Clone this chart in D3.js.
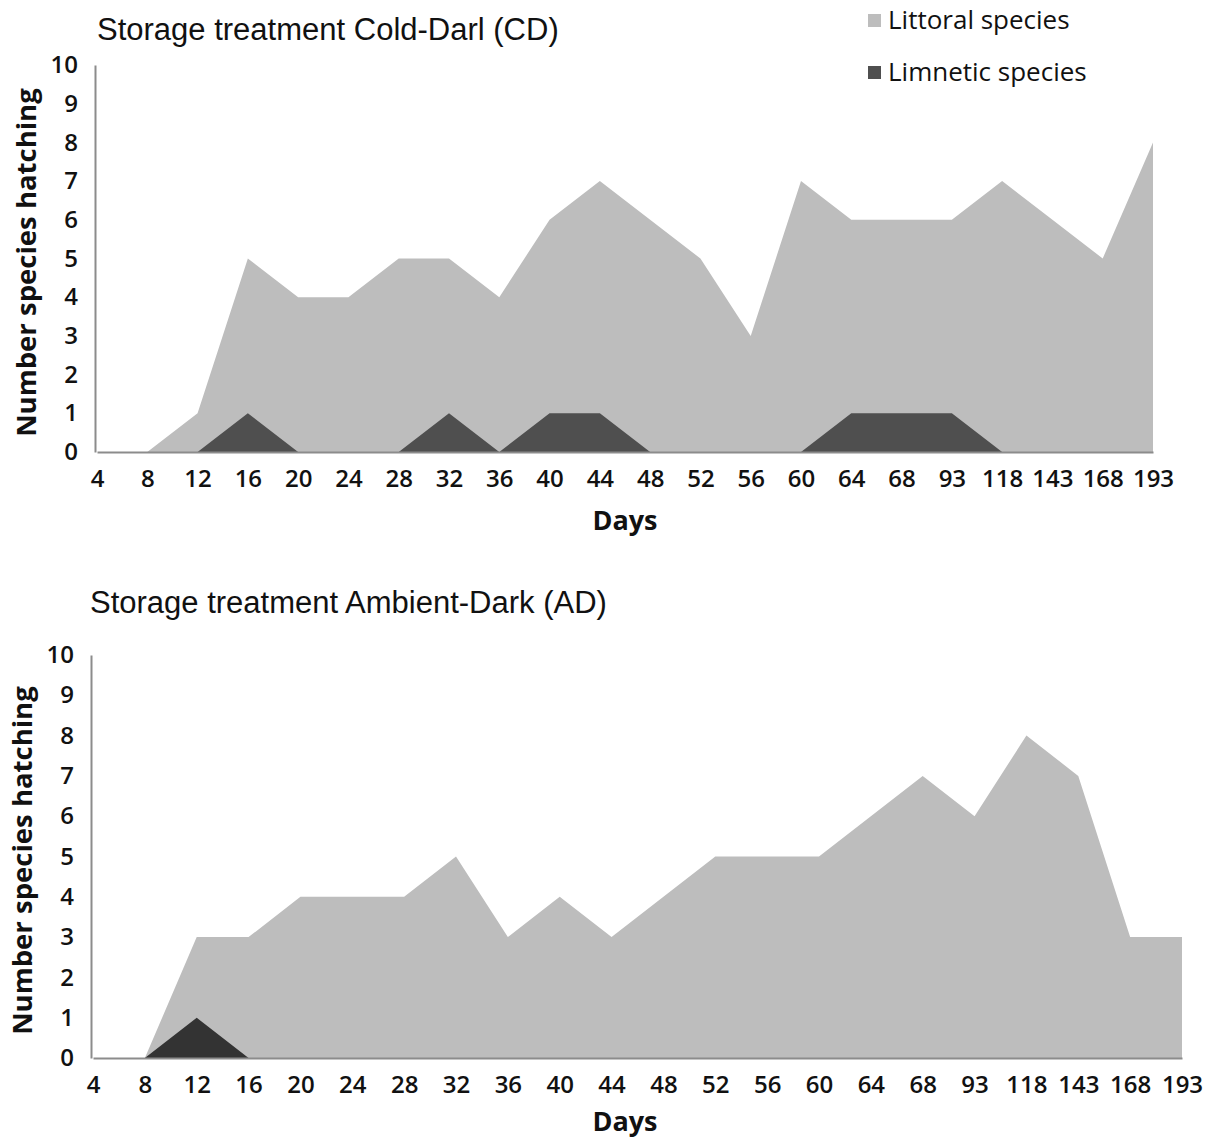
<!DOCTYPE html>
<html>
<head>
<meta charset="utf-8">
<script src="https://cdn.jsdelivr.net/npm/d3@7"></script>
<style>
  body { margin: 0; background: #fff; }
  .tick text { font-family: "Open Sans", sans-serif; font-size: 24px; font-weight: 600; fill: #111; }
</style>
</head>
<body>
<script>
// days of sampling (categorical axis)
const days = ["4","8","12","16","20","24","28","32","36","40","44","48","52","56","60","64","68","93","118","143","168","193"];
const yTicks = [0,1,2,3,4,5,6,7,8,9,10];

// Cold-Dark (CD)
const cdLittoral = [0,0,1,5,4,4,5,5,4,6,7,6,5,3,7,6,6,6,7,6,5,8];
const cdLimnetic = [0,0,0,1,0,0,0,1,0,1,1,0,0,0,0,1,1,1,0,0,0,0];
// Ambient-Dark (AD)
const adLittoral = [0,0,3,3,4,4,4,5,3,4,3,4,5,5,5,6,7,6,8,7,3,3];
const adLimnetic = [0,0,1,0,0,0,0,0,0,0,0,0,0,0,0,0,0,0,0,0,0,0];

const width = 1218, height = 1140;
const svg = d3.select("body").append("svg").attr("width", width).attr("height", height);

function drawPanel(opt) {
  const x = d3.scalePoint().domain(days).range([opt.x0, opt.x1]);
  const y = d3.scaleLinear().domain([0, 10]).range([opt.y0, opt.y1]);
  const g = svg.append("g");

  const area = vals => d3.area()
    .x((d, i) => x(days[i]))
    .y0(y(0))
    .y1(d => y(d))(vals);

  g.append("path").attr("d", area(opt.littoral)).attr("fill", "#bdbdbd");
  g.append("path").attr("d", area(opt.limnetic)).attr("fill", opt.limColor);

  // axes
  const ya = g.append("g").attr("transform", `translate(${opt.x0 - 2},0)`)
    .call(d3.axisLeft(y).tickValues(yTicks).tickSize(0).tickPadding(17));
  ya.select(".domain").attr("stroke", "#8c8c8c").attr("stroke-width", 2);

  const xa = g.append("g").attr("transform", `translate(0,${opt.y0})`)
    .call(d3.axisBottom(x).tickSize(0).tickPadding(18));
  xa.select(".domain").attr("stroke", "#8c8c8c").attr("stroke-width", 2);

  // titles
  g.append("text").attr("x", opt.titleX).attr("y", opt.titleY)
    .attr("font-family", "Liberation Sans, Arial, sans-serif").attr("font-size", 31)
    .attr("fill", "#111").text(opt.title);

  g.append("text")
    .attr("transform", `translate(${opt.yTitleX},${(opt.y0 + opt.y1) / 2 + 4}) rotate(-90)`)
    .attr("text-anchor", "middle")
    .attr("font-family", "Open Sans, sans-serif").attr("font-weight", 700).attr("font-size", 27.5)
    .attr("fill", "#111").text("Number species hatching");

  g.append("text").attr("x", 625).attr("y", opt.daysY)
    .attr("text-anchor", "middle")
    .attr("font-family", "Open Sans, sans-serif").attr("font-weight", 700).attr("font-size", 27)
    .attr("fill", "#111").text("Days");
}

drawPanel({
  x0: 97, x1: 1153, y0: 452, y1: 65,
  littoral: cdLittoral, limnetic: cdLimnetic, limColor: "#4f4f4f",
  title: "Storage treatment Cold-Darl (CD)", titleX: 97, titleY: 40, yTitleX: 36, daysY: 530
});

drawPanel({
  x0: 93, x1: 1182, y0: 1058, y1: 655,
  littoral: adLittoral, limnetic: adLimnetic, limColor: "#333333",
  title: "Storage treatment Ambient-Dark (AD)", titleX: 90, titleY: 613, yTitleX: 32, daysY: 1131
});

// legend
const legend = [
  {name: "Littoral species", color: "#bdbdbd"},
  {name: "Limnetic species", color: "#4f4f4f"}
];
const lg = svg.append("g").selectAll("g").data(legend).join("g")
  .attr("transform", (d, i) => `translate(868,${14 + i * 52})`);
lg.append("rect").attr("width", 13).attr("height", 13).attr("fill", d => d.color);
lg.append("text").attr("x", 20).attr("y", 15)
  .attr("font-family", "Open Sans, sans-serif").attr("font-size", 26).attr("fill", "#111")
  .text(d => d.name);
</script>
</body>
</html>
